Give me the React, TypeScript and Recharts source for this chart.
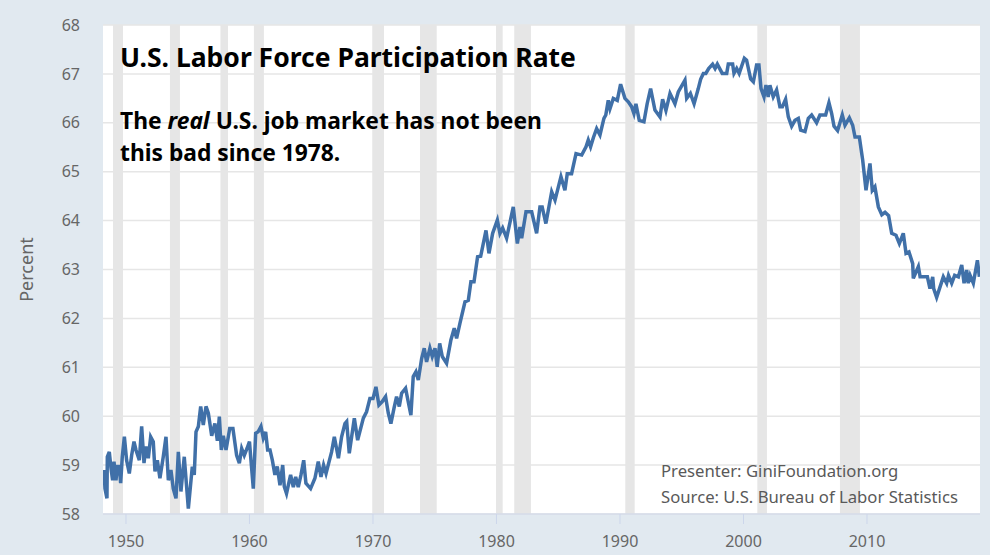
import { LineChart, Line, XAxis, YAxis, CartesianGrid, ReferenceArea } from 'recharts';

const years = [
  1948.14, 1948.22, 1948.3, 1948.46, 1948.49, 1948.65, 1948.79, 1948.92, 1949.03, 1949.19, 1949.3, 1949.46, 1949.57, 1949.7, 1949.87,
  1950.05, 1950.27, 1950.46, 1950.65, 1950.81, 1951.08, 1951.27, 1951.46, 1951.62, 1951.81, 1952.0, 1952.21, 1952.35, 1952.54, 1952.75,
  1953.02, 1953.24, 1953.43, 1953.64, 1953.83, 1954.05, 1954.24, 1954.45, 1954.72, 1955.05, 1955.37, 1955.53, 1955.67, 1955.86,
  1956.05, 1956.26, 1956.48, 1956.67, 1956.94, 1957.2, 1957.4, 1957.56, 1957.72, 1957.88, 1958.1, 1958.4, 1958.66, 1958.96, 1959.18, 1959.37, 1959.58, 1959.8,
  1960.0, 1960.12, 1960.31, 1960.5, 1960.7, 1960.93, 1961.12, 1961.31, 1961.47, 1961.66, 1961.85, 1962.06, 1962.25, 1962.47, 1962.69, 1962.82,
  1963.0, 1963.33, 1963.55, 1963.74, 1963.95, 1964.17, 1964.39, 1964.57, 1964.95, 1965.3, 1965.57, 1965.79, 1966.0, 1966.2, 1966.65, 1966.87,
  1967.2, 1967.46, 1967.73, 1967.87, 1968.08, 1968.49, 1968.76, 1969.22, 1969.48, 1969.75, 1970.0, 1970.24, 1970.48, 1970.75, 1971.02, 1971.24, 1971.45, 1971.7, 1971.91,
  1972.13, 1972.32, 1972.64, 1972.85, 1973.07, 1973.26, 1973.48, 1973.67, 1973.94, 1974.15, 1974.34, 1974.61, 1974.8, 1975.02, 1975.2, 1975.4, 1975.61, 1975.96,
  1976.31, 1976.58, 1976.77, 1977.04, 1977.45, 1977.72, 1977.93, 1978.18, 1978.47, 1978.72, 1979.15, 1979.39, 1979.69,
  1980.07, 1980.28, 1980.5, 1980.82, 1981.36, 1981.69, 1981.9, 1982.04, 1982.39, 1982.85, 1983.25, 1983.52, 1983.7, 1984.0, 1984.47, 1984.74,
  1985.22, 1985.54, 1985.73, 1986.08, 1986.44, 1986.9, 1987.25, 1987.43, 1987.62, 1987.85, 1988.11, 1988.38, 1988.7, 1988.85, 1989.05, 1989.19, 1989.46, 1989.78,
  1990.05, 1990.4, 1990.67, 1990.94, 1991.13, 1991.29, 1991.56, 1991.94, 1992.2, 1992.48, 1992.83, 1993.24, 1993.45, 1993.72, 1994.05, 1994.45, 1994.72,
  1995.26, 1995.4, 1995.7, 1996.0, 1996.34, 1996.53, 1996.75, 1996.95, 1997.18, 1997.5, 1997.7, 1997.88, 1998.28, 1998.64, 1998.77, 1999.12, 1999.23, 1999.45, 1999.65,
  2000.07, 2000.25, 2000.58, 2000.8, 2001.06, 2001.25, 2001.42, 2001.66, 2001.82, 2002.0, 2002.14, 2002.41, 2002.68, 2002.95, 2003.15, 2003.41, 2003.63, 2003.9, 2004.17, 2004.44, 2004.63, 2004.98,
  2005.25, 2005.52, 2005.92, 2006.19, 2006.65, 2006.92, 2007.14, 2007.33, 2007.62, 2008.0, 2008.22, 2008.57, 2008.84, 2009.03, 2009.38, 2009.65, 2009.92,
  2010.24, 2010.43, 2010.64, 2010.92, 2011.2, 2011.46, 2011.75, 2012.0, 2012.35, 2012.62, 2012.94, 2013.16, 2013.4, 2013.7, 2013.75, 2014.16, 2014.3, 2014.89,
  2015.1, 2015.32, 2015.4, 2015.64, 2016.18, 2016.45, 2016.6, 2016.86, 2017.1, 2017.4, 2017.67, 2017.86, 2018.07, 2018.2, 2018.35, 2018.61, 2018.94, 2019.1,
];

const rate = [
  58.6, 58.9, 58.52, 58.32, 59.17, 59.27, 58.93, 58.69, 59.07, 58.69, 58.97, 58.97, 58.63, 59.17, 59.58,
  59.1, 58.83, 59.2, 59.48, 59.31, 59.1, 59.79, 59.04, 59.38, 59.14, 59.58, 59.48, 58.87, 59.1, 58.73,
  59.17, 59.58, 58.69, 58.9, 58.52, 58.32, 59.27, 58.46, 59.17, 58.11, 58.97, 58.8, 59.68, 59.79,
  60.2, 59.82, 60.2, 60.06, 59.6, 59.85, 59.5, 59.99, 59.31, 59.6, 59.31, 59.75, 59.75, 59.2, 59.04, 59.34, 59.2, 59.34,
  59.48, 59.1, 58.52, 59.65, 59.68, 59.79, 59.55, 59.68, 59.31, 59.31, 59.1, 58.8, 58.97, 58.59, 59.0, 58.56,
  58.42, 58.8, 58.55, 58.76, 58.55, 58.8, 59.1, 58.63, 58.52, 58.73, 59.07, 58.76, 59.0, 58.83, 59.27, 59.58,
  59.14, 59.58, 59.85, 59.89, 59.24, 59.96, 59.51, 59.96, 60.09, 60.36, 60.36, 60.6, 60.23, 60.3, 60.4, 60.06, 59.85, 60.16, 60.4,
  60.2, 60.47, 60.57, 60.3, 60.02, 60.81, 60.91, 60.74, 61.18, 61.39, 61.11, 61.39, 61.22, 61.39, 61.01, 61.49, 61.22, 61.08,
  61.56, 61.8, 61.59, 61.9, 62.34, 62.37, 62.75, 62.75, 63.26, 63.27, 63.8, 63.33, 63.74,
  64.01, 63.74, 63.85, 63.64, 64.28, 63.53, 63.87, 63.64, 64.18, 64.18, 63.74, 64.28, 64.28, 63.94, 64.59, 64.42,
  64.9, 64.62, 64.96, 64.96, 65.37, 65.34, 65.51, 65.65, 65.51, 65.7, 65.88, 65.75, 66.09, 66.16, 66.46, 66.29, 66.5, 66.46,
  66.79, 66.5, 66.43, 66.33, 66.19, 66.39, 66.05, 66.02, 66.39, 66.7, 66.26, 66.12, 66.48, 66.25, 66.6, 66.39, 66.63,
  66.87, 66.5, 66.6, 66.39, 66.7, 66.89, 67.01, 67.01, 67.11, 67.2, 67.11, 67.2, 67.01, 67.01, 67.2, 67.2, 67.01, 67.11, 67.01,
  67.32, 67.28, 66.9, 66.84, 67.18, 67.18, 66.7, 66.53, 66.77, 66.53, 66.77, 66.53, 66.67, 66.33, 66.33, 66.48, 66.12, 65.93, 66.05, 66.09, 65.85, 65.82,
  66.09, 66.16, 66.0, 66.16, 66.16, 66.41, 66.19, 65.93, 65.84, 66.16, 65.95, 66.1, 65.95, 65.71, 65.71, 65.24, 64.62,
  65.17, 64.62, 64.69, 64.28, 64.12, 64.17, 64.1, 63.74, 63.7, 63.53, 63.74, 63.33, 63.36, 63.12, 62.82, 63.06, 62.85, 62.85,
  62.61, 62.85, 62.61, 62.43, 62.85, 62.72, 62.88, 62.72, 62.88, 62.85, 63.09, 62.72, 62.99, 62.72, 62.88, 62.72, 63.19, 62.85,
];

const recessionStart = [1948.95, 1953.56, 1957.65, 1960.36, 1969.94, 1973.81, 1979.96, 1981.44, 1990.43, 2001.12, 2007.81];
const recessionEnd = [1949.76, 1954.37, 1958.26, 1961.17, 1970.89, 1975.16, 1980.5, 1982.79, 1991.19, 2001.9, 2009.43];

const xTicks = [1950, 1960, 1970, 1980, 1990, 2000, 2010];
const yTicks = [58, 59, 60, 61, 62, 63, 64, 65, 66, 67, 68];

const chartData = years.map((year, i) => ({ year, rate: rate[i] }));

const uiFont = '"Noto Sans", "Open Sans", sans-serif';

export default function App() {
  return (
    <div style={{ position: 'absolute', left: 0, top: 0, width: 990, height: 555, background: '#e1e9f0', overflow: 'hidden', fontFamily: uiFont }}>
      <LineChart width={990} height={555} data={chartData} margin={{ top: 25, right: 10, bottom: 11, left: 0 }}>
        <CartesianGrid fill="#ffffff" stroke="#e6e6e6" strokeWidth={1.5} vertical={false} />
        <XAxis
          dataKey="year"
          type="number"
          domain={[1948.14, 2019.15]}
          allowDataOverflow
          ticks={xTicks}
          tick={{ fill: '#666666', fontSize: 16, fontFamily: uiFont }}
          tickSize={10}
          tickMargin={12}
          axisLine={{ stroke: '#ccd6eb' }}
          tickLine={{ stroke: '#ccd6eb' }}
        />
        <YAxis
          type="number"
          domain={[58, 68]}
          ticks={yTicks}
          width={103}
          tick={{ fill: '#666666', fontSize: 16, fontFamily: uiFont }}
          tickSize={0}
          tickMargin={23}
          axisLine={false}
          label={{ value: 'Percent', angle: -90, position: 'insideLeft', offset: 27, style: { fill: '#666666', fontSize: 18, fontFamily: uiFont, textAnchor: 'middle' } }}
        />
        {recessionStart.map((start, i) => (
          <ReferenceArea key={start} x1={start} x2={recessionEnd[i]} fill="#e6e6e6" fillOpacity={1} stroke="none" />
        ))}
        <Line type="linear" dataKey="rate" stroke="#4070a8" strokeWidth={3.5} dot={false} isAnimationActive={false} />
      </LineChart>

      <div style={{ position: 'absolute', left: 120, top: 39, fontSize: 26.5, fontWeight: 700, color: '#000', whiteSpace: 'nowrap' }}>
        U.S. Labor Force Participation Rate
      </div>
      <div style={{ position: 'absolute', left: 120, top: 105, fontSize: 22.8, lineHeight: '32px', fontWeight: 700, color: '#000', whiteSpace: 'nowrap' }}>
        The <i>real</i> U.S. job market has not been
        <br />
        this bad since 1978.
      </div>
      <div style={{ position: 'absolute', left: 661, top: 458, fontSize: 16.7, lineHeight: '26px', color: '#595959', whiteSpace: 'nowrap' }}>
        Presenter: GiniFoundation.org
        <br />
        Source: U.S. Bureau of Labor Statistics
      </div>
    </div>
  );
}
